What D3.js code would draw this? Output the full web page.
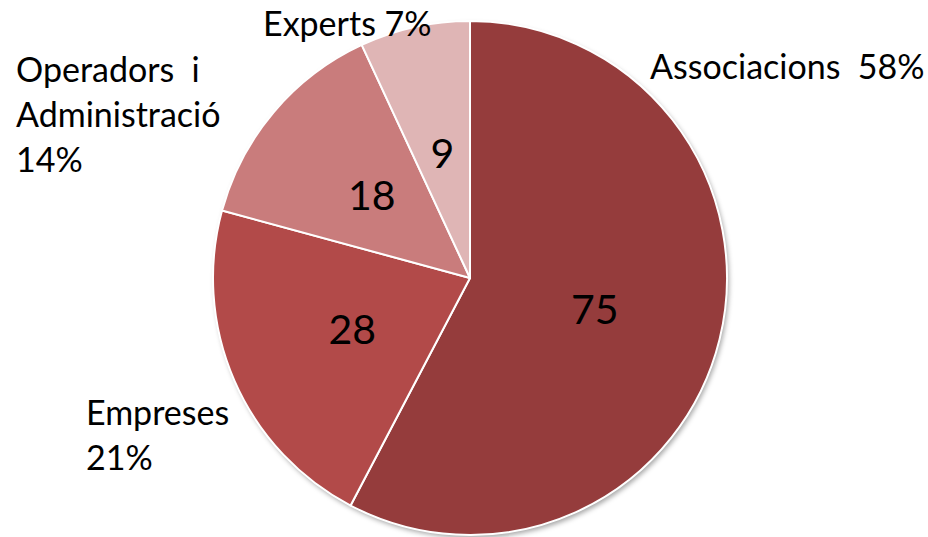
<!DOCTYPE html>
<html>
<head>
<meta charset="utf-8">
<script src="https://cdn.jsdelivr.net/npm/d3@7"></script>
<style>
  html, body { margin: 0; padding: 0; background: #fff; }
  svg { display: block; }
  text { font-family: Lato, "Open Sans", sans-serif; fill: #000; white-space: pre; }
</style>
</head>
<body>
<div id="chart"></div>
<script>
const categories = ["Associacions", "Empreses", "Operadors i Administració", "Experts"];
const values = [75, 28, 18, 9];
const percents = [58, 21, 14, 7];
const colors = ["#953c3c", "#b24a49", "#c97c7c", "#dfb5b5"];

// outer label lines and where Excel put them (left x, first baseline)
const labelLines = [
  ["Associacions  58%"],
  ["Empreses", "21%"],
  ["Operadors  i", "Administració", "14%"],
  ["Experts 7%"]
];
const labelPos = [[650, 79], [86, 425], [16, 82], [263, 36]];

function renderPie() {
  const width = 928;
  const height = 537;
  const cx = 470, cy = 278, radius = 257;

  const svg = d3.select("#chart")
    .append("svg")
    .attr("width", width)
    .attr("height", height);

  const defs = svg.append("defs");
  const shadow = defs.append("filter")
    .attr("id", "shadow")
    .attr("x", "-10%").attr("y", "-10%")
    .attr("width", "120%").attr("height", "120%");
  shadow.append("feDropShadow")
    .attr("dx", 2).attr("dy", 3)
    .attr("stdDeviation", 2.5)
    .attr("flood-color", "#000")
    .attr("flood-opacity", 0.35);

  const g = svg.append("g")
    .attr("transform", `translate(${cx},${cy})`);

  const pie = d3.pie().sort(null).value(d => d);
  const arcs = pie(values);

  const arc = d3.arc().innerRadius(0).outerRadius(radius);

  g.append("circle")
    .attr("r", radius)
    .attr("fill", "#fff")
    .attr("filter", "url(#shadow)");

  g.selectAll("path.slice")
    .data(arcs)
    .join("path")
    .attr("class", "slice")
    .attr("d", arc)
    .attr("fill", (d, i) => colors[i])
    .attr("stroke", "#fff")
    .attr("stroke-width", 2)
    .attr("stroke-linejoin", "round");

  g.selectAll("text.value")
    .data(arcs)
    .join("text")
    .attr("class", "value")
    .attr("transform", d => `translate(${arc.centroid(d)})`)
    .attr("text-anchor", "middle")
    .attr("dy", "0.37em")
    .style("font-size", "41px")
    .text(d => d.data);

  const labels = svg.selectAll("text.label")
    .data(categories)
    .join("text")
    .attr("class", "label")
    .attr("x", (d, i) => labelPos[i][0])
    .attr("y", (d, i) => labelPos[i][1])
    .style("font-size", "34px");

  labels.each(function(d, i) {
    d3.select(this).selectAll("tspan")
      .data(labelLines[i])
      .join("tspan")
      .attr("x", labelPos[i][0])
      .attr("dy", (t, j) => j === 0 ? 0 : 45)
      .text(t => t);
  });
}

renderPie();
</script>
</body>
</html>
